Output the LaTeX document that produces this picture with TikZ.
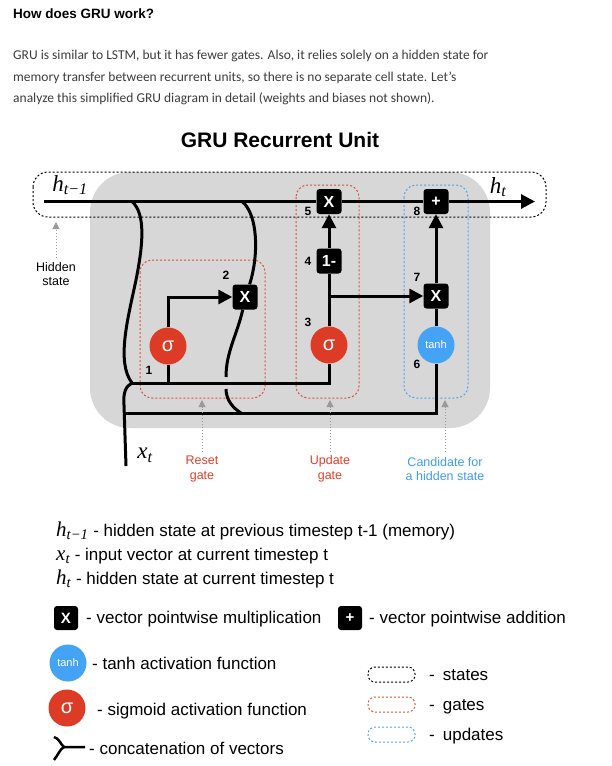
\documentclass[tikz,border=0pt]{standalone}
\usepackage{fontspec}
\setmainfont{Liberation Sans}
\newfontfamily\tms{Liberation Serif}
\newfontfamily\parafont{Carlito}
\usetikzlibrary{arrows.meta,calc}
\definecolor{sigred}{HTML}{DC3B26}
\definecolor{tanhblue}{HTML}{45A3F5}
\definecolor{gatered}{HTML}{E0503A}
\definecolor{gateblue}{HTML}{4CA6EE}
\definecolor{lblred}{HTML}{E0402A}
\definecolor{lblblue}{HTML}{3D9DF0}
\definecolor{ptrgray}{HTML}{9A9A9A}
\definecolor{cellgray}{HTML}{D7D7D7}
\definecolor{paratext}{HTML}{3C3C3C}
\newcommand{\fsz}[1]{\fontsize{#1}{#1}\selectfont}
\newcommand{\vsym}[2]{{\tms\itshape #1\textsubscript{#2}}}
\tikzset{
  opbox/.style={fill=black,rounded corners=3pt,minimum size=25pt,inner sep=0pt,text=white,font=\bfseries\fsz{16}},
  sigc/.style={circle,fill=sigred,minimum size=37pt,inner sep=0pt,text=white,font=\fsz{20}},
  tanhc/.style={circle,fill=tanhblue,minimum size=37pt,inner sep=0pt,text=white,font=\fsz{11}},
  wire/.style={line width=3pt,black},
  arr/.style={wire,-{Triangle[length=14pt,width=14pt]}},
  numlbl/.style={inner sep=0pt,font=\bfseries\fsz{12}},
  txt/.style={inner sep=0pt,anchor=base west},
  statebox/.style={draw=black,dash pattern=on 2pt off 2pt,line width=1pt},
  redbox/.style={draw=gatered,dash pattern=on 2pt off 2pt,line width=1pt},
  bluebox/.style={draw=gateblue,dash pattern=on 2pt off 2pt,line width=1pt},
  pointer/.style={draw=ptrgray,dotted,line width=1pt,-{Triangle[length=7pt,width=7pt]}},
  gatelbl/.style={inner sep=0pt,align=center,font=\fontsize{12.5}{14.5}\selectfont},
  legtxt/.style={txt,font=\fsz{17}},
}
\begin{document}
\begin{tikzpicture}[x=1pt,y=-1pt]
\useasboundingbox[fill=white] (0,0) rectangle (611,766);
% header text
\node[txt,font=\bfseries\fsz{13.5}] (head) at (13,18.5) {How does GRU work?};
\node[txt,font=\parafont\fsz{13.5},text=paratext] (p1) at (13,59.5) {GRU is similar to LSTM, but it has fewer gates. Also, it relies solely on a hidden state for};
\node[txt,font=\parafont\fsz{13.5},text=paratext] (p2) at (13,81.5) {memory transfer between recurrent units, so there is no separate cell state. Let’s};
\node[txt,font=\parafont\fsz{13.5},text=paratext] (p3) at (13,102.5) {analyze this simplified GRU diagram in detail (weights and biases not shown).};
\node[inner sep=0pt,font=\bfseries\fsz{21}] (title) at (280,140) {GRU Recurrent Unit};
% cell background
\fill[cellgray,rounded corners=40pt] (90,172) rectangle (490,428);
\draw[statebox,rounded corners=15pt] (33,172) rectangle (546,217);
\draw[redbox,rounded corners=12pt] (140,260) rectangle (265,398);
\draw[redbox,rounded corners=12pt] (296,185) rectangle (359,398);
\draw[bluebox,rounded corners=12pt] (404,185) rectangle (468,398);
% nodes
\node[opbox] (b5) at (329,201.5) {X};
\node[opbox] (b8) at (436,201.5) {+};
\node[opbox] (b4) at (329,261) {1-};
\node[opbox] (b7) at (436,296) {X};
\node[opbox] (b2) at (245,297) {X};
\node[sigc] (s1) at (168,346) {σ};
\node[sigc] (s3) at (329,345) {σ};
\node[tanhc] (th) at (436,345) {tanh};
\coordinate (hin) at (44,201.5);
\coordinate (hout) at (535,201.5);
\coordinate (hA) at (132,201.5);
\coordinate (hB) at (242,201.5);
\coordinate (J1) at (132,383);
\coordinate (L0) at (124.5,413);
\coordinate (xt0) at (126,466);
\coordinate (R1) at (226,377);
\coordinate (R2) at (226,389);
\coordinate (R3) at (241,413);
% wires
\draw[wire] (hin) -- (b5.west);
\draw[wire] (b5.east) -- (b8.west);
\draw[arr] (b8.east) -- (hout);
\draw[wire] (hA) .. controls (146,214) and (143,245) .. (136,280) .. controls (128,318) and (116,362) .. (J1);
\draw[wire] (xt0) -- (124,405) .. controls (123,392) and (126,386) .. (J1);
\draw[wire] (hB) .. controls (258,214) and (259,255) .. (b2.70);
\draw[wire] (J1) -| (s3.south);
\draw[wire] (s1.south) -- (s1.south |- J1);
\draw[wire] (L0) -| (th.south);
\draw[wire] (b2.260) .. controls (237,335) and (226,352) .. (R1);
\draw[wire] (R2) .. controls (226,400) and (233,408) .. (R3);
\draw[arr] (s1.north) |- (b2.west);
\draw[wire] (s3.north) -- (b4.south);
\draw[arr] (b4.north) -- (b5.south);
\draw[arr] (s3.north |- b7.west) -- (b7.west);
\draw[wire] (th.north) -- (b7.south);
\draw[arr] (b7.north) -- (b8.south);
% number labels
\node[numlbl] (n1) at (149,370) {1};
\node[numlbl] (n2) at (226,275) {2};
\node[numlbl] (n3) at (308,322) {3};
\node[numlbl] (n4) at (308,261) {4};
\node[numlbl] (n5) at (308,211) {5};
\node[numlbl] (n6) at (417,364) {6};
\node[numlbl] (n7) at (417,277) {7};
\node[numlbl] (n8) at (417,211) {8};
% state labels
\node[inner sep=0pt,font=\fsz{23}] (hprev) at (70,185) {\vsym{h}{t−1}};
\node[inner sep=0pt,font=\fsz{23}] (hcur) at (498,187) {\vsym{h}{t}};
\node[inner sep=0pt,font=\fsz{23}] (xt) at (145,455) {\vsym{x}{t}};
% pointers and captions
\node[gatelbl] (hs) at (56,274) {Hidden\\state};
\coordinate (hsTip) at (56,222);
\draw[pointer] (56,258) -- (hsTip);
\node[gatelbl,text=lblred] (rg) at (202,469) {Reset\\gate};
\node[gatelbl,text=lblred] (ug) at (330,469) {Update\\gate};
\node[gatelbl,text=lblblue] (cg) at (445,469) {Candidate for\\a hidden state};
\coordinate (rgTip) at (202,400);
\coordinate (ugTip) at (330,400);
\coordinate (cgTip) at (445,400);
\draw[pointer] (202,452) -- (rgTip);
\draw[pointer] (330,452) -- (ugTip);
\draw[pointer] (445,452) -- (cgTip);
% legend
\node[legtxt] (l1) at (56,536) {{\fsz{21}\vsym{h}{t−1}} - hidden state at previous timestep t-1 (memory)};
\node[legtxt] (l2) at (56,560) {{\fsz{21}\vsym{x}{t}} - input vector at current timestep t};
\node[legtxt] (l3) at (56,584) {{\fsz{21}\vsym{h}{t}} - hidden state at current timestep t};
\node[opbox,minimum size=24pt,font=\bfseries\fsz{15}] (lx) at (66,618) {X};
\node[legtxt] (lxt) at (86,623) {- vector pointwise multiplication};
\node[opbox,minimum size=24pt,font=\bfseries\fsz{15}] (lp) at (350,618) {+};
\node[legtxt] (lpt) at (369,623) {- vector pointwise addition};
\node[tanhc] (lt) at (68,663) {tanh};
\node[legtxt] (ltt) at (92,669) {- tanh activation function};
\node[sigc] (ls) at (67,708) {σ};
\node[legtxt] (lst) at (97,715) {- sigmoid activation function};
\coordinate (cj) at (64,747);
\coordinate (ca) at (54,737);
\coordinate (cb) at (54,760);
\coordinate (ce) at (85,747);
\draw[line width=2.5pt] (ca) .. controls (59,738) and (61,745) .. (cj) -- (ce);
\draw[line width=2.5pt] (cb) .. controls (58,755) and (60,749) .. (cj);
\node[legtxt] (lct) at (89,754) {- concatenation of vectors};
\draw[statebox,rounded corners=7pt] (368,667) rectangle (415,682);
\draw[redbox,rounded corners=7pt] (368,697) rectangle (415,712);
\draw[bluebox,rounded corners=7pt] (368,727) rectangle (415,742);
\node[legtxt] (w1) at (429,680) {-\hspace{8pt}states};
\node[legtxt] (w2) at (429,710) {-\hspace{8pt}gates};
\node[legtxt] (w3) at (429,740) {-\hspace{8pt}updates};
\end{tikzpicture}
\end{document}
